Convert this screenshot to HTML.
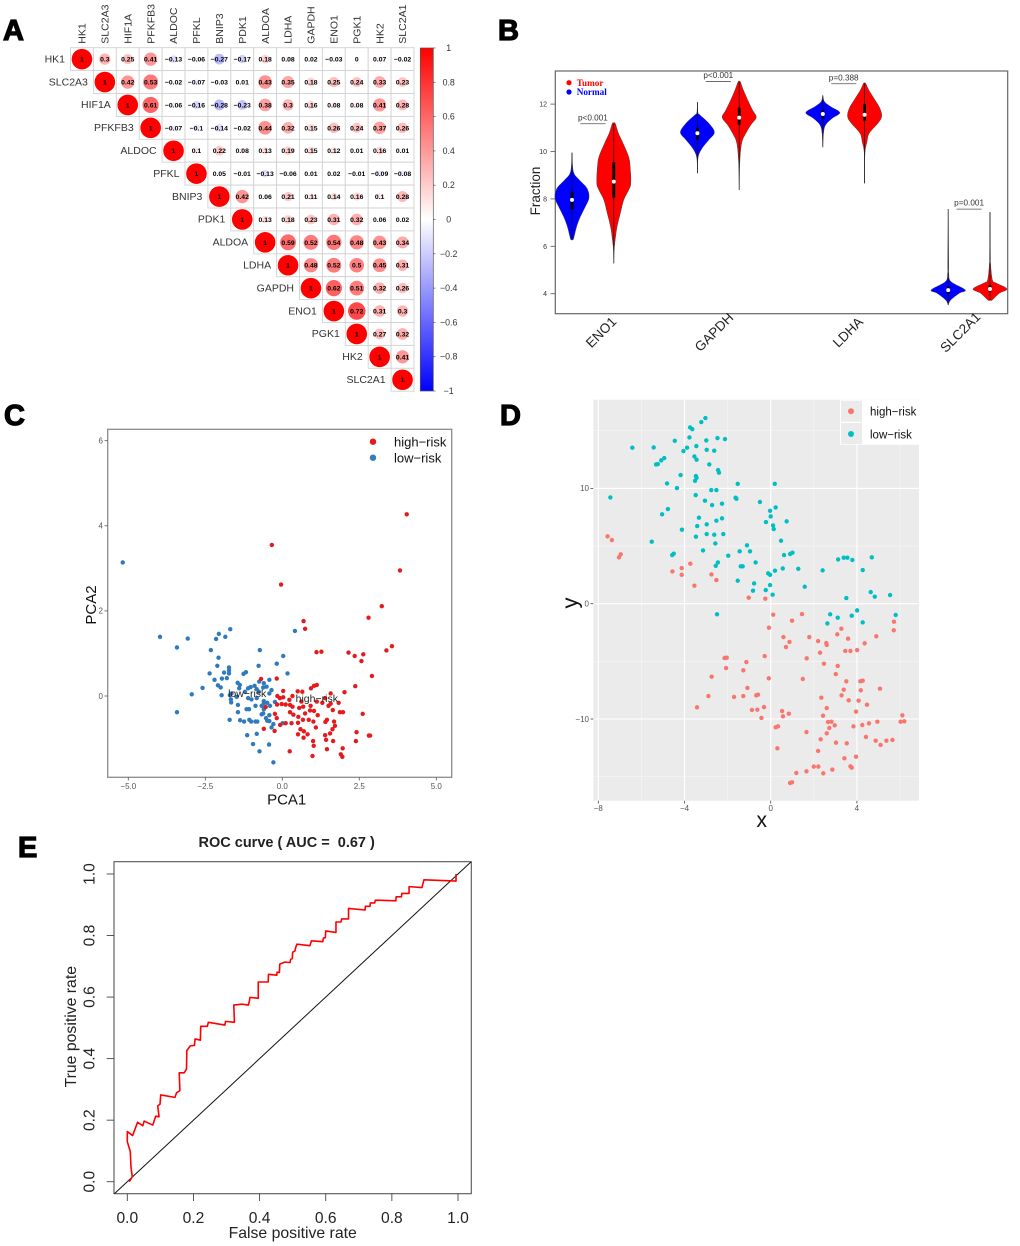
<!DOCTYPE html>
<html lang="en">
<head>
<meta charset="utf-8">
<title>Glycolysis gene figure panels</title>
<style>
html,body{margin:0;padding:0;background:#fff;}
svg{display:block;font-family:"Liberation Sans",Arial,sans-serif;}
</style>
</head>
<body>
<svg id="fig" xmlns="http://www.w3.org/2000/svg" width="1020" height="1246" viewBox="0 0 1020 1246">
  <defs>
    <linearGradient id="cbGrad" x1="0" y1="0" x2="0" y2="1">
      <stop offset="0" stop-color="#ff0000"/>
      <stop offset="0.5" stop-color="#ffffff"/>
      <stop offset="1" stop-color="#0000ff"/>
    </linearGradient>
    <clipPath id="rocClip"><rect x="114" y="861.7" width="357.3" height="332"/></clipPath>
  </defs>
  <rect width="1020" height="1246" fill="#fff"/>

  <g font-weight="700" font-size="29" fill="#000" stroke="#000" stroke-width="1.2">
    <text x="3" y="40">A</text>
    <text x="498" y="40">B</text>
    <text x="4" y="425">C</text>
    <text x="500" y="425">D</text>
    <text x="18" y="857">E</text>
  </g>

  <g id="panelA">
    <rect x="420.3" y="48" width="13" height="343" fill="url(#cbGrad)" stroke="#555" stroke-width="0.7"/>
  </g>

  <g id="panelB">
    <rect x="555.3" y="71" width="452.4" height="242.7" fill="#fff" stroke="#666" stroke-width="1.2"/>
    <text transform="translate(540,191) rotate(-90)" text-anchor="middle" font-size="13.5" fill="#222">Fraction</text>
    <circle cx="569" cy="82.7" r="2.6" fill="#ff0000"/>
    <text x="576.7" y="85.8" font-family="'Liberation Serif',serif" font-weight="700" font-size="9.2" fill="#ff0000">Tumor</text>
    <circle cx="569" cy="92" r="2.6" fill="#0000ff"/>
    <text x="576.7" y="95.2" font-family="'Liberation Serif',serif" font-weight="700" font-size="9.2" fill="#0000ff">Normal</text>
  </g>

  <g id="panelC">
    <rect x="107.7" y="429.3" width="344" height="348" fill="#fff" stroke="#8a8a8a" stroke-width="1.3"/>
    <text x="286.7" y="804.5" text-anchor="middle" font-size="15" fill="#111">PCA1</text>
    <text transform="translate(96,605) rotate(-90)" text-anchor="middle" font-size="15" fill="#111">PCA2</text>
    <circle cx="373" cy="441.7" r="3.2" fill="#e41a1c"/>
    <text x="394" y="446.5" font-size="13" fill="#111">high−risk</text>
    <circle cx="373" cy="457.7" r="3.2" fill="#377eb8"/>
    <text x="394" y="462.5" font-size="13" fill="#111">low−risk</text>
  </g>

  <g id="panelD">
    <rect x="593.3" y="399.7" width="325.7" height="401" fill="#ebebeb"/>
    <text x="761.7" y="827" text-anchor="middle" font-size="21" fill="#111">x</text>
    <text transform="translate(577.5,603) rotate(-90)" text-anchor="middle" font-size="22" fill="#111">y</text>
  </g>

  <g id="panelE">
    <text x="286.7" y="847" text-anchor="middle" font-size="14.5" font-weight="700" fill="#222" style="white-space:pre">ROC curve ( AUC =  0.67 )</text>
    <rect x="114" y="861.7" width="357.3" height="332" fill="#fff" stroke="#555" stroke-width="1.1"/>
    <text x="292.7" y="1238" text-anchor="middle" font-size="15.8" fill="#222">False positive rate</text>
    <text transform="translate(76,1026.7) rotate(-90)" text-anchor="middle" font-size="15.8" fill="#222">True positive rate</text>
  </g>
</svg>

<script>
/* ---------- Panel A data ---------- */
const genes = ['HK1','SLC2A3','HIF1A','PFKFB3','ALDOC','PFKL','BNIP3','PDK1','ALDOA','LDHA','GAPDH','ENO1','PGK1','HK2','SLC2A1'];
const corrHK1 = [1,0.3,0.25,0.41,-0.13,-0.06,-0.27,-0.17,0.18,0.08,0.02,-0.03,0,0.07,-0.02];
const corrSLC2A3 = [1,0.42,0.53,-0.02,-0.07,-0.03,0.01,0.43,0.35,0.18,0.25,0.24,0.33,0.23];
const corrHIF1A = [1,0.61,-0.06,-0.16,-0.28,-0.23,0.38,0.3,0.16,0.08,0.08,0.41,0.28];
const corrPFKFB3 = [1,-0.07,-0.1,-0.14,-0.02,0.44,0.32,0.15,0.26,0.24,0.37,0.26];
const corrALDOC = [1,0.1,0.22,0.08,0.13,0.19,0.15,0.12,0.01,0.16,0.01];
const corrPFKL = [1,0.05,-0.01,-0.13,-0.06,0.01,0.02,-0.01,-0.09,-0.08];
const corrBNIP3 = [1,0.42,0.06,0.21,0.11,0.14,0.16,0.1,0.28];
const corrPDK1 = [1,0.13,0.18,0.23,0.31,0.32,0.06,0.02];
const corrALDOA = [1,0.59,0.52,0.54,0.48,0.43,0.34];
const corrLDHA = [1,0.48,0.52,0.5,0.45,0.31];
const corrGAPDH = [1,0.62,0.51,0.32,0.26];
const corrENO1 = [1,0.72,0.31,0.3];
const corrPGK1 = [1,0.27,0.32];
const corrHK2 = [1,0.41];
const corrSLC2A1 = [1];
const corrRows = [corrHK1,corrSLC2A3,corrHIF1A,corrPFKFB3,corrALDOC,corrPFKL,corrBNIP3,corrPDK1,corrALDOA,corrLDHA,corrGAPDH,corrENO1,corrPGK1,corrHK2,corrSLC2A1];
const colorbarTicks = [1,0.8,0.6,0.4,0.2,0,-0.2,-0.4,-0.6,-0.8,-1];

/* ---------- Panel B data ---------- */
const violinCategories = ['ENO1','GAPDH','LDHA','SLC2A1'];
const violinYTicks = [4,6,8,10,12];
const pLabels = ['p<0.001','p<0.001','p=0.388','p=0.001'];
const pBracketLevels = [11.17,12.95,12.86,7.57];
const eno1NormalLevels = [9.95,9.15,8.8,8.45,8.05,7.67,7.25,6.83,6.3,6.3];
const eno1NormalDensity = [0,0.08,0.43,0.88,1,0.78,0.49,0.27,0.08,0];
const eno1TumorLevels = [11.19,11.19,10.77,10.35,9.78,9.36,8.66,8.37,7.95,7.39,6.83,6.27,5.84,5.28];
const eno1TumorDensity = [0,0.08,0.27,0.54,0.87,0.96,1,0.87,0.58,0.38,0.19,0.08,0.02,0];
const gapdhNormalLevels = [12.08,11.64,11.54,11.19,10.81,10.49,10.13,9.75,9.08];
const gapdhNormalDensity = [0,0.03,0.15,0.67,1,0.67,0.27,0.04,0];
const gapdhTumorLevels = [12.95,12.95,12.6,12.17,11.75,11.44,11.12,10.77,10.35,9.5,8.38];
const gapdhTumorDensity = [0,0.06,0.24,0.5,0.78,1,0.68,0.39,0.14,0.03,0];
const ldhaNormalLevels = [12.37,12.1,11.89,11.64,11.4,11.12,10.77,10.18];
const ldhaNormalDensity = [0,0.1,0.47,1,0.55,0.16,0.04,0];
const ldhaTumorLevels = [12.88,12.88,12.6,12.24,11.82,11.47,11.19,10.77,10.41,9.92,8.66];
const ldhaTumorDensity = [0,0.06,0.24,0.55,0.9,1,0.78,0.27,0.14,0.02,0];
const slcNormalLevels = [7.57,5.3,4.86,4.51,4.16,4.02,3.73,3.52];
const slcNormalDensity = [0,0.02,0.03,0.16,1,0.65,0.14,0];
const slcTumorLevels = [7.44,5.6,5.28,4.58,4.44,4.2,4.02,3.73,3.73];
const slcTumorDensity = [0,0.02,0.03,0.14,0.39,1,0.55,0.12,0];
const violinMedians = [7.96,8.73,10.77,11.43,11.58,11.55,4.15,4.2];
const violinQ1 = [7.55,8.05,10.5,11.13,11.4,11.3,4.0,4.1];
const violinQ3 = [8.3,9.55,11.0,11.85,11.75,12.0,4.3,4.35];

/* ---------- Panel C data (PCA1, PCA2) ---------- */
const pcaXTicks = [-5,-2.5,0,2.5,5];
const pcaXTickLabels = ['−5.0','−2.5','0.0','2.5','5.0'];
const pcaYTicks = [0,2,4,6];
const pcaLow = [[-5.18,3.14],[-3.97,1.39],[-3.07,1.35],[-3.42,1.14],[-1.69,1.57],[-2.06,1.46],[-2.15,1.34],[-1.85,1.39],[-2.32,1.08],[-2.07,0.9],[-2.11,0.71],[-2.36,0.53],[-2.2,0.38],[-2.09,0.25],[-2,0.2],[-2.59,0.19],[-2.94,0.04],[-3.42,-0.38],[-1.97,0.02],[-1.96,0.41],[-1.8,0.42],[-1.89,0.55],[-1.73,0.53],[-1.73,0.6],[-1.73,0.67],[-1.26,0.52],[-1.18,0.56],[-0.73,1.08],[-0.77,0.71],[-0.18,0.76],[0.03,0.94],[0.17,0.53],[0.41,1.53],[-0.42,0.38],[-0.75,0.34],[-0.9,0.24],[-1.45,0.31],[-1.38,0.26],[-1.4,0.18],[-1.21,0.1],[-1.11,0.18],[-1.03,0.21],[-0.6,0.3],[-0.51,0.22],[-0.62,0.2],[-0.35,0.14],[-0.42,0.06],[-0.83,0.16],[-1.65,0.06],[-1.7,0.02],[-1.48,-0.02],[-1.67,-0.08],[-1.66,-0.15],[-1.11,-0.05],[-1,-0.08],[-0.83,-0.05],[-0.76,0.1],[-0.6,-0.12],[-0.49,-0.16],[-0.24,-0.14],[-1.44,-0.21],[-1.44,-0.38],[-1.16,-0.31],[-1.08,-0.31],[-0.87,-0.23],[-0.67,-0.23],[-0.6,-0.17],[-0.4,-0.23],[-0.67,-0.43],[-0.6,-0.31],[-0.42,-0.45],[-0.53,-0.52],[-0.62,-0.41],[-1.71,-0.56],[-1.37,-0.57],[-1.24,-0.6],[-1.07,-0.56],[-1.01,-0.6],[-0.87,-0.6],[-0.81,-0.6],[-0.49,-0.58],[-0.42,-0.59],[-0.29,-0.66],[-0.35,-0.74],[0.01,-0.64],[-1.14,-0.92],[-0.83,-0.89],[-0.95,-1.13],[-0.43,-1.14],[-0.74,-1.3],[-0.29,-1.56]];
const pcaHigh = [[4.04,4.27],[3.82,2.95],[3.23,2.11],[2.8,1.84],[-0.34,3.55],[-0.04,2.62],[0.69,1.76],[0.74,1.58],[1.11,1.03],[1.27,1.04],[2.15,1.02],[2.35,0.94],[2.63,0.98],[2.57,0.82],[3.38,1.07],[3.56,1.17],[2.91,0.47],[2.37,0.23],[2.02,0.09],[2.61,-0.42],[2.41,-0.85],[2.39,-1.06],[2.81,-0.93],[2.85,-0.93],[1.96,-1.23],[1.9,-1.37],[1.95,-1.43],[1.65,-1.06],[1.45,-1.25],[0.98,-1.41],[0.24,-1.3],[1.02,-1.17],[1,-1.06],[1.42,-1.03],[1.39,-0.92],[1.55,-0.88],[1.63,-0.78],[1.71,-0.7],[1.68,-0.6],[1.45,-0.56],[1.4,-0.61],[1.09,-0.74],[1.01,-0.6],[0.86,-0.56],[0.67,-0.56],[0.52,-0.49],[0.51,-0.63],[0.3,-0.64],[0.11,-0.64],[-0.07,-0.68],[0.59,-0.78],[0.7,-0.83],[0.82,-0.9],[0.51,-0.9],[0.69,-0.98],[-0.25,-0.82],[-0.6,-0.77],[-0.18,-0.52],[-0.24,-0.42],[-0.54,-0.26],[-0.69,0.4],[-0.18,0.41],[0.03,0.12],[0.5,0.11],[0.65,0.1],[1.03,0.24],[1.12,0.26],[0.93,0.18],[1.57,0.06],[-0.16,0],[-0.08,-0.05],[0.03,-0.03],[0.33,0],[0.23,-0.09],[-0.17,-0.2],[-0.02,-0.19],[0.11,-0.2],[0.25,-0.21],[0.33,-0.25],[0.25,-0.38],[0.36,-0.44],[0.55,-0.28],[0.68,-0.25],[0.92,-0.23],[0.74,-0.41],[0.9,-0.34],[1.03,-0.35],[1.15,-0.45],[1.12,-0.13],[1.3,-0.16],[1.39,-0.05],[1.57,-0.18],[1.5,-0.23],[1.64,-0.33],[1.83,-0.16],[1.87,-0.38],[1.97,-0.38],[0.62,-0.13]];

/* ---------- Panel D data (x, y) ---------- */
const tsneXTicks = [-8,-4,0,4];
const tsneXMinor = [-6,-2,2,6];
const tsneYTicks = [-10,0,10];
const tsneYMinor = [-15,-5,5,15];
const tsneLow = [[-6.42,13.53],[-7.44,9.22],[-5.43,13.55],[-4.45,14.13],[-3.03,16.1],[-3.22,15.75],[-3.74,15.29],[-3.64,15.14],[-3.77,14.42],[-2.99,14.16],[-2.47,14.36],[-2.12,14.28],[-3.45,13.67],[-3.88,13.53],[-4.05,13.24],[-2.97,13.35],[-2.62,13.27],[-3.54,12.77],[-3.44,12.49],[-4.94,12.63],[-5.08,12.43],[-5.24,12.11],[-5.32,12.08],[-2.85,12.08],[-2.44,11.59],[-2.4,11.36],[-4.18,11.16],[-3.47,11.07],[-3.44,10.92],[-3.51,10.66],[-4.81,10.43],[-4.35,10.03],[-2.76,9.86],[-2.52,9.86],[-1.53,10.4],[0.19,10.4],[-3.48,9.42],[-3.05,8.93],[-2.72,8.55],[-2.26,8.67],[-1.63,9.19],[-1.59,9.1],[-0.5,8.82],[0.23,8.35],[-0.03,8.06],[0,7.57],[-4.77,8.21],[-5.04,7.75],[-3.33,7.46],[-2.26,7.4],[-2.52,7.2],[-2.97,6.88],[-3.41,6.73],[-0.22,7.08],[0.11,6.79],[0.14,6.47],[0.74,7.14],[-4.12,6.42],[-2.97,6.04],[-2.62,5.98],[-2.2,6.04],[-3.47,5.81],[-5.52,5.38],[0.48,5.46],[-2.57,5.23],[-1.1,5.06],[-3.14,4.62],[-1.44,4.54],[-0.96,4.54],[1.01,4.42],[0.9,4.31],[0.62,4.22],[-4.5,4.34],[-4.57,4.22],[-1.97,4.16],[3.13,3.84],[3.39,3.99],[3.56,3.99],[3.79,3.79],[4.69,4.02],[-2.45,3.58],[-2.55,3.29],[-0.7,3.58],[-1.39,3.24],[-1.3,3.24],[0.56,3.06],[1.28,3.03],[2.41,2.89],[4.27,2.92],[0.2,2.86],[-0.12,2.63],[-0.03,2.51],[-1.53,1.99],[-0.77,1.76],[-0.03,1.62],[-0.82,1.13],[-0.23,1.18],[1.58,1.47],[4.64,1.01],[0.09,0.78],[5.54,0.75],[4.83,0.61],[3.51,0.49],[-2.49,-0.92],[2.76,-0.92],[3.11,-1.21],[3.76,-1.04],[4.01,-0.58],[5.8,-0.98],[2.63,-1.71],[4.27,-1.62]];
const tsneHigh = [[-7.57,5.84],[-7.37,5.52],[-6.96,4.28],[-7.04,4.02],[-3.73,3.47],[-4.13,3.09],[-4.56,2.8],[-4.13,2.51],[-2.75,2.54],[-2.52,2.05],[-3.54,1.56],[-1.02,0.52],[-0.25,0.43],[0.12,-0.95],[1.45,-0.9],[0.99,-1.47],[-0.08,-2.08],[0.59,-2.89],[1.79,-2.89],[3.28,-2.17],[3.09,-2.66],[3.59,-3.03],[4.9,-2.83],[5.72,-1.56],[5.71,-2.31],[0.87,-3.32],[0.71,-3.76],[2.2,-3.24],[2.58,-3.41],[2.6,-3.58],[4.36,-3.44],[3.46,-4.1],[3.7,-4.1],[4.01,-4.02],[2.29,-4.25],[1.67,-4.74],[2.47,-5.2],[3.11,-5.4],[-0.28,-4.54],[-2.14,-4.71],[-2.04,-4.68],[-1.13,-5.06],[-2.07,-5.58],[-1.27,-5.78],[3.02,-6.1],[-2.74,-6.33],[-0.09,-6.47],[1.49,-6.53],[3.51,-6.73],[4.16,-6.73],[4.27,-6.68],[3.39,-7.46],[4.18,-7.51],[5.07,-7.37],[-1.08,-7.31],[-2.89,-8.01],[-1.7,-8.09],[-1.27,-8.01],[-0.67,-7.95],[-0.59,-7.89],[3.29,-7.95],[2.35,-8.15],[3.62,-8.38],[4.08,-8.41],[4.47,-8.76],[-3.42,-8.99],[-0.31,-8.96],[2.6,-9.05],[-0.87,-9.22],[-0.62,-9.19],[0.53,-9.31],[3.96,-9.36],[0.84,-9.54],[0.57,-9.77],[2.43,-9.71],[6.11,-9.68],[-0.43,-9.91],[2.66,-10.26],[2.82,-10.23],[4.95,-10.23],[6.03,-10.23],[6.2,-10.2],[4.56,-10.38],[4.25,-10.52],[2.97,-10.55],[3.84,-10.64],[2.72,-10.78],[0.34,-10.64],[0.23,-10.72],[1.66,-11.13],[2.6,-11.24],[4.42,-11.56],[2.32,-11.76],[4.87,-11.88],[5.37,-11.88],[5.65,-11.82],[3.03,-12.05],[3.53,-12.11],[5.1,-12.25],[0.31,-12.54],[2.2,-12.77],[3.96,-13.27],[3.42,-13.41],[2,-14.13],[2.21,-14.13],[3.7,-14.1],[3.76,-14.22],[2.86,-14.39],[1.66,-14.54],[1.19,-14.68],[2.44,-14.71],[0.99,-15.49],[0.9,-15.55]];

/* ---------- Panel E data (FPR, TPR) ---------- */
const rocTicks = [0,0.2,0.4,0.6,0.8,1];
const rocTickLabels = ['0.0','0.2','0.4','0.6','0.8','1.0'];
const rocPoints = [[0.006,0],[0.015,0.016],[0.011,0.049],[0.009,0.098],[0,0.13],[0,0.163],[0.016,0.15],[0.031,0.193],[0.047,0.182],[0.051,0.197],[0.077,0.184],[0.086,0.213],[0.096,0.211],[0.092,0.246],[0.099,0.252],[0.101,0.282],[0.144,0.274],[0.149,0.289],[0.159,0.296],[0.157,0.354],[0.172,0.354],[0.179,0.366],[0.18,0.426],[0.19,0.441],[0.203,0.443],[0.205,0.464],[0.221,0.46],[0.222,0.505],[0.242,0.505],[0.245,0.518],[0.295,0.509],[0.297,0.521],[0.324,0.518],[0.322,0.574],[0.346,0.577],[0.366,0.574],[0.369,0.586],[0.371,0.599],[0.396,0.596],[0.396,0.649],[0.426,0.649],[0.427,0.674],[0.452,0.671],[0.453,0.681],[0.46,0.68],[0.461,0.707],[0.477,0.714],[0.492,0.712],[0.494,0.723],[0.499,0.725],[0.5,0.746],[0.507,0.75],[0.509,0.761],[0.513,0.772],[0.552,0.767],[0.557,0.783],[0.591,0.78],[0.593,0.792],[0.599,0.793],[0.6,0.815],[0.631,0.81],[0.631,0.844],[0.646,0.844],[0.648,0.854],[0.669,0.854],[0.669,0.888],[0.719,0.883],[0.72,0.895],[0.734,0.895],[0.735,0.906],[0.748,0.906],[0.75,0.915],[0.812,0.913],[0.813,0.926],[0.829,0.926],[0.83,0.937],[0.852,0.937],[0.852,0.959],[0.891,0.956],[0.897,0.981],[0.994,0.977],[0.994,1]];
const diagonalEnds = [-0.04,1.04];

/* ---------- Helpers ---------- */
const NS = 'http://www.w3.org/2000/svg';
function add(parent, tag, attrs, text) {
  const el = document.createElementNS(NS, tag);
  for (const k in attrs) el.setAttribute(k, attrs[k]);
  if (text !== undefined) el.textContent = text;
  parent.appendChild(el);
  return el;
}
function minusLabel(v) { return String(v).replace('-', '−'); }
let el;

/* ---------- Panel A ---------- */
(function () {
  const g = document.getElementById('panelA');
  const x0 = 70.5, y0 = 47.7, cell = 22.9;
  const colX = i => x0 + cell * i;
  const rowY = i => y0 + cell * i;
  const corrColor = v => {
    const t = Math.round(255 * (1 - Math.abs(v)));
    return v >= 0 ? `rgb(255,${t},${t})` : `rgb(${t},${t},255)`;
  };
  genes.forEach((name, i) => {
    el = add(g, 'text', {transform: `translate(${colX(i) + cell / 2 + 3.6},43.7) rotate(-90)`, 'font-size': 10.5, fill: '#333'}, name);
    
    
    el = add(g, 'text', {x: colX(i) - 5.5, y: rowY(i) + cell / 2 + 3.2, 'text-anchor': 'end', 'font-size': 10.5, fill: '#333'}, name);
    
    
  });
  corrRows.forEach((row, i) => {
    row.forEach((v, k) => {
      const j = i + k;
      const cx = colX(j) + cell / 2, cy = rowY(i) + cell / 2;
      el = add(g, 'rect', {x: colX(j), y: rowY(i), width: cell, height: cell, fill: '#fff', stroke: '#d2d2d2', 'stroke-width': 0.9});
      
      
      el = add(g, 'circle', {cx: cx, cy: cy, r: cell / 2 * 0.9 * Math.sqrt(Math.abs(v)), fill: corrColor(v)});
      
      
      el = add(g, 'text', {x: cx, y: cy + 2.4, 'text-anchor': 'middle', 'font-size': 6.8, 'font-weight': 700, fill: '#000'}, minusLabel(v));
      
      
    });
  });
  const barY = v => 48 + (1 - v) / 2 * 343;
  colorbarTicks.forEach(v => {
    el = add(g, 'line', {x1: 433.3, x2: 435.5, y1: barY(v), y2: barY(v), stroke: '#555', 'stroke-width': 0.7});
    
    
    el = add(g, 'text', {x: 448.7, y: barY(v) + 3, 'text-anchor': 'middle', 'font-size': 8.8, fill: '#333'}, minusLabel(v));
    
    
  });
})();

/* ---------- Panel B ---------- */
(function () {
  const g = document.getElementById('panelB');
  const bX = pos => 572 + (pos - 1) * 41.8;
  const bY = v => 293.7 - (v - 4) * 23.7;
  const halfWidth = 17;
  const labelShift = [8, -4.5, 4, -9];
  const RED = '#ff0000', BLUE = '#0000ff';
  const series = [
    {pos: 1, levels: eno1NormalLevels, density: eno1NormalDensity, color: BLUE},
    {pos: 2, levels: eno1TumorLevels, density: eno1TumorDensity, color: RED},
    {pos: 4, levels: gapdhNormalLevels, density: gapdhNormalDensity, color: BLUE},
    {pos: 5, levels: gapdhTumorLevels, density: gapdhTumorDensity, color: RED},
    {pos: 7, levels: ldhaNormalLevels, density: ldhaNormalDensity, color: BLUE},
    {pos: 8, levels: ldhaTumorLevels, density: ldhaTumorDensity, color: RED},
    {pos: 10, levels: slcNormalLevels, density: slcNormalDensity, color: BLUE},
    {pos: 11, levels: slcTumorLevels, density: slcTumorDensity, color: RED}
  ];
  function smooth(pts) {
    let d = '';
    for (let i = 0; i < pts.length - 1; i++) {
      const p0 = pts[Math.max(i - 1, 0)], p1 = pts[i], p2 = pts[i + 1], p3 = pts[Math.min(i + 2, pts.length - 1)];
      const c1x = p1[0] + (p2[0] - p0[0]) / 6, c1y = p1[1] + (p2[1] - p0[1]) / 6;
      const c2x = p2[0] - (p3[0] - p1[0]) / 6, c2y = p2[1] - (p3[1] - p1[1]) / 6;
      d += `C${c1x.toFixed(2)} ${c1y.toFixed(2)} ${c2x.toFixed(2)} ${c2y.toFixed(2)} ${p2[0].toFixed(2)} ${p2[1].toFixed(2)}`;
    }
    return d;
  }
  violinYTicks.forEach(v => {
    el = add(g, 'line', {x1: 550.5, x2: 555.3, y1: bY(v), y2: bY(v), stroke: '#555', 'stroke-width': 0.8});
    
    
    el = add(g, 'text', {x: 547, y: bY(v) + 2.5, 'text-anchor': 'end', 'font-size': 7, fill: '#333'}, String(v));
    
    
  });
  series.forEach((s, idx) => {
    const cx = bX(s.pos);
    const left = s.levels.map((lv, i) => [cx - s.density[i] * halfWidth, bY(lv)]);
    const right = s.levels.map((lv, i) => [cx + s.density[i] * halfWidth, bY(lv)]).reverse();
    const d = `M${left[0][0]} ${left[0][1]}` + smooth(left) + `L${right[0][0]} ${right[0][1]}` + smooth(right) + 'Z';
    el = add(g, 'path', {d: d, fill: s.color, stroke: '#444', 'stroke-width': 0.5});
    
    
    el = add(g, 'line', {x1: cx, x2: cx, y1: bY(s.levels[0]), y2: bY(s.levels[s.levels.length - 1]), stroke: '#111', 'stroke-width': 0.7});
    
    
    el = add(g, 'line', {x1: cx, x2: cx, y1: bY(violinQ3[idx]), y2: bY(violinQ1[idx]), stroke: '#000', 'stroke-width': 2.8});
    
    
    el = add(g, 'circle', {cx: cx, cy: bY(violinMedians[idx]), r: 2, fill: '#fff'});
    
    
  });
  violinCategories.forEach((name, i) => {
    const center = bX(i * 3 + 1.5);
    el = add(g, 'line', {x1: center - 12.5, x2: center + 12.5, y1: bY(pBracketLevels[i]), y2: bY(pBracketLevels[i]), stroke: '#555', 'stroke-width': 0.8});
    
    
    el = add(g, 'text', {x: center, y: bY(pBracketLevels[i]) - 3.4, 'text-anchor': 'middle', 'font-size': 8.2, fill: '#333'}, pLabels[i]);
    
    
    el = add(g, 'text', {transform: `translate(${center + labelShift[i]},332) rotate(-45)`, 'text-anchor': 'middle', dy: '0.36em', 'font-size': 13.5, fill: '#222'}, name);
    
    
  });
})();

/* ---------- Panel C ---------- */
(function () {
  const g = document.getElementById('panelC');
  const cX = v => 282.3 + v * 30.8;
  const cY = v => 696 - v * 42.55;
  pcaXTicks.forEach((v, i) => {
    el = add(g, 'line', {x1: cX(v), x2: cX(v), y1: 777.3, y2: 780.5, stroke: '#555', 'stroke-width': 0.8});
    
    
    el = add(g, 'text', {x: cX(v), y: 789, 'text-anchor': 'middle', 'font-size': 8, fill: '#555'}, pcaXTickLabels[i]);
    
    
  });
  pcaYTicks.forEach(v => {
    el = add(g, 'line', {x1: 104.5, x2: 107.7, y1: cY(v), y2: cY(v), stroke: '#555', 'stroke-width': 0.8});
    
    
    el = add(g, 'text', {x: 103, y: cY(v) + 2.8, 'text-anchor': 'end', 'font-size': 8, fill: '#555'}, String(v));
    
    
  });
  pcaLow.forEach(p => {
    el = add(g, 'circle', {cx: cX(p[0]), cy: cY(p[1]), r: 2.2, fill: '#2f7abd'});
    
    
  });
  pcaHigh.forEach(p => {
    el = add(g, 'circle', {cx: cX(p[0]), cy: cY(p[1]), r: 2.2, fill: '#e41a1c'});
    
    
  });
  el = add(g, 'text', {x: cX(-1.14), y: cY(0.06) + 3.5, 'text-anchor': 'middle', 'font-size': 10.5, fill: '#222'}, 'low−risk');
  
  
  el = add(g, 'text', {x: cX(1.12), y: cY(-0.06) + 3.5, 'text-anchor': 'middle', 'font-size': 10.5, fill: '#222'}, 'high−risk');
  
  
})();

/* ---------- Panel D ---------- */
(function () {
  const g = document.getElementById('panelD');
  const dX = v => 770.7 + v * 21.55;
  const dY = v => 603.7 - v * 11.53;
  tsneXMinor.forEach(v => {
    el = add(g, 'line', {x1: dX(v), x2: dX(v), y1: 399.7, y2: 800.7, stroke: '#f7f7f7', 'stroke-width': 0.6});
    
    
  });
  tsneYMinor.forEach(v => {
    el = add(g, 'line', {x1: 593.3, x2: 919, y1: dY(v), y2: dY(v), stroke: '#f7f7f7', 'stroke-width': 0.6});
    
    
  });
  tsneXTicks.forEach(v => {
    el = add(g, 'line', {x1: dX(v), x2: dX(v), y1: 399.7, y2: 800.7, stroke: '#fff', 'stroke-width': 1.1});
    
    
    el = add(g, 'line', {x1: dX(v), x2: dX(v), y1: 800.7, y2: 803.5, stroke: '#444', 'stroke-width': 0.8});
    
    
    el = add(g, 'text', {x: dX(v), y: 811, 'text-anchor': 'middle', 'font-size': 8, fill: '#555'}, minusLabel(v));
    
    
  });
  tsneYTicks.forEach(v => {
    el = add(g, 'line', {x1: 593.3, x2: 919, y1: dY(v), y2: dY(v), stroke: '#fff', 'stroke-width': 1.1});
    
    
    el = add(g, 'line', {x1: 590.5, x2: 593.3, y1: dY(v), y2: dY(v), stroke: '#444', 'stroke-width': 0.8});
    
    
    el = add(g, 'text', {x: 589, y: dY(v) + 2.8, 'text-anchor': 'end', 'font-size': 8, fill: '#555'}, minusLabel(v));
    
    
  });
  tsneHigh.forEach(p => {
    el = add(g, 'circle', {cx: dX(p[0]), cy: dY(p[1]), r: 2.2, fill: '#f8766d'});
    
    
  });
  tsneLow.forEach(p => {
    el = add(g, 'circle', {cx: dX(p[0]), cy: dY(p[1]), r: 2.2, fill: '#00bfc4'});
    
    
  });
  el = add(g, 'rect', {x: 840, y: 399.7, width: 79, height: 45, fill: '#fff'});
  
  
  el = add(g, 'rect', {x: 841, y: 400.7, width: 21, height: 21, fill: '#ebebeb'});
  
  
  el = add(g, 'rect', {x: 841, y: 423, width: 21, height: 21, fill: '#ebebeb'});
  
  
  el = add(g, 'circle', {cx: 851, cy: 411.3, r: 3, fill: '#f8766d'});
  
  
  el = add(g, 'circle', {cx: 851, cy: 434, r: 3, fill: '#00bfc4'});
  
  
  el = add(g, 'text', {x: 870, y: 415.6, 'font-size': 11.5, fill: '#111'}, 'high−risk');
  
  
  el = add(g, 'text', {x: 870, y: 438.3, 'font-size': 11.5, fill: '#111'}, 'low−risk');
  
  
})();

/* ---------- Panel E ---------- */
(function () {
  const g = document.getElementById('panelE');
  const eX = v => 127.3 + v * 330.7;
  const eY = v => 1181.7 - v * 307.7;
  rocTicks.forEach((v, i) => {
    el = add(g, 'line', {x1: eX(v), x2: eX(v), y1: 1193.7, y2: 1201, stroke: '#444', 'stroke-width': 0.9});
    
    
    el = add(g, 'text', {x: eX(v), y: 1223, 'text-anchor': 'middle', 'font-size': 15.6, fill: '#222'}, rocTickLabels[i]);
    
    
    el = add(g, 'line', {x1: 106.7, x2: 114, y1: eY(v), y2: eY(v), stroke: '#444', 'stroke-width': 0.9});
    
    
    el = add(g, 'text', {transform: `translate(94.5,${eY(v)}) rotate(-90)`, 'text-anchor': 'middle', 'font-size': 15.6, fill: '#222'}, rocTickLabels[i]);
    
    
  });
  el = add(g, 'line', {x1: eX(diagonalEnds[0]), y1: eY(diagonalEnds[0]), x2: eX(diagonalEnds[1]), y2: eY(diagonalEnds[1]), stroke: '#111', 'stroke-width': 1, 'clip-path': 'url(#rocClip)'});
  
  
  const pts = rocPoints.map(p => eX(p[0]).toFixed(2) + ',' + eY(p[1]).toFixed(2)).join(' ');
  el = add(g, 'polyline', {points: pts, fill: 'none', stroke: '#ff0000', 'stroke-width': 1.6, 'stroke-linejoin': 'round'});
  
  
})();
</script>
</body>
</html>
